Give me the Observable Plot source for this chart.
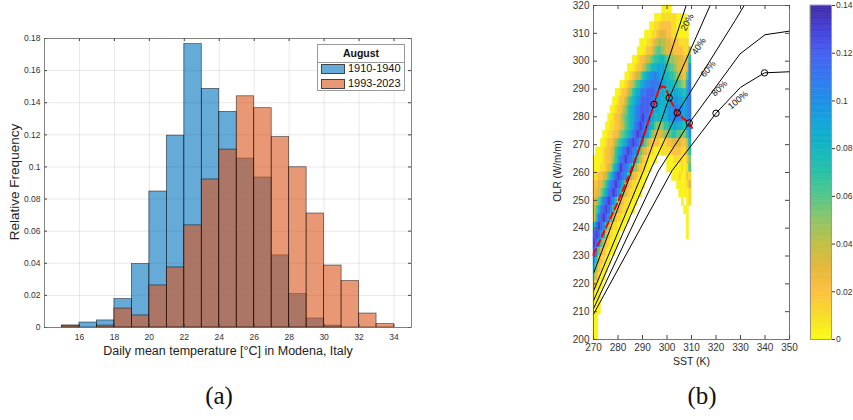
<!DOCTYPE html>
<html><head><meta charset="utf-8">
<script src="https://cdn.jsdelivr.net/npm/d3@7"></script>
<script src="https://cdn.jsdelivr.net/npm/@observablehq/plot@0.6"></script>
<style>
body{margin:0;background:#fff}
#root{position:relative;width:853px;height:420px;background:#fff;overflow:hidden;font-family:'Liberation Sans',Arial,sans-serif;color:#222}
.abs{position:absolute;white-space:nowrap}
.c{transform:translate(-50%,-50%)}
.cap{font-family:'Liberation Serif','DejaVu Serif',serif;font-size:25px;color:#111}
</style></head><body>
<div id="root">
  <div id="pa" class="abs" style="left:0;top:0;width:420px;height:365px"></div>
  <div id="pb" class="abs" style="left:540px;top:0;width:260px;height:370px"></div>
  <div id="cb" class="abs" style="left:800px;top:0;width:53px;height:370px"></div>
</div>
<script>
// ---------- Panel (a) data ----------
const binEdges = [15,16,17,18,19,20,21,22,23,24,25,26,27,28,29,30,31,32,33,34];
const freq1910 = [0.0012,0.0031,0.0044,0.0177,0.0395,0.0847,0.1195,0.1765,0.1486,0.1343,0.1052,0.0934,0.0449,0.0208,0.0056,0.0012,0,0,0];
const freq1993 = [0.0012,0,0.0012,0.0118,0.0075,0.0262,0.0374,0.0636,0.0922,0.1108,0.1440,0.1366,0.1186,0.0998,0.0710,0.0386,0.0289,0.0087,0.0021];
const seriesNames = ["1910-1940","1993-2023"];
const seriesColors = ["#0072BD","#D95319"];
const legendTitle = "August";
const xTicksA = [16,18,20,22,24,26,28,30,32,34];
const yTicksA = [0,0.02,0.04,0.06,0.08,0.1,0.12,0.14,0.16,0.18];
const xLabelA = "Daily mean temperature [°C] in Modena, Italy";
const yLabelA = "Relative Frequency";

// ---------- Panel (b) data ----------
const sstTicks = [270,280,290,300,310,320,330,340,350];
const olrTicks = [200,210,220,230,240,250,260,270,280,290,300,310,320];
const cbTicks = [0,0.02,0.04,0.06,0.08,0.1,0.12,0.14];
const xLabelB = "SST (K)";
const yLabelB = "OLR (W/m/m)";
// density level codes
const levelCodes = "0123456789abcd";
const levelValues = [0.003,0.01,0.02,0.03,0.04,0.05,0.06,0.07,0.08,0.09,0.10,0.11,0.12,0.13];
const olrBinHeight = 3, sstBinWidth = 1;
// [OLR bin bottom, first SST, level per 1 K column]
const densityRows = [
  [317,298,"0000"],
  [314,295,"0001111110000"],
  [311,293,"0011222221100000"],
  [308,291,"000112333221100000"],
  [305,289,"00011234544332221111"],
  [302,288,"0001223566543332222114"],
  [299,286,"001223456778876554433237"],
  [296,284,"0001223567889998766543323a"],
  [293,283,"0012345789aaba998877654326a"],
  [290,281,"0012346789aabbbba99888776548b"],
  [287,279,"0012245789abbcccba998888998879b"],
  [284,278,"0012246789abccccba9988899aa998ab"],
  [281,277,"0012245789abccccba998899aabbaa9ab"],
  [278,276,"00122356789abcdcba9888889aabbaa9ab"],
  [275,275,"001122346789bcdcba9865557788998879a"],
  [272,274,"001122356789bcdcba97543345567766557a"],
  [269,273,"00122356789bcdcba86432221112233332248"],
  [266,271,"00012234789bcdcba8643211000111122221137"],
  [263,270,"00001223579bcdcba864211000"],[263,300,"0001111025"],
  [260,270,"0001123479bdcba865321100"],[260,300,"0000001016"],
  [257,270,"11223468acdcba75321100"],[257,302,"00010021"],
  [254,270,"2233579bcdca853211000"],[254,304,"000013"],
  [251,270,"233579bcdca853211000"],[251,305,"00001"],
  [248,270,"3468bcdca743211000"],[248,306,"0.01"],
  [245,270,"468bcdca743211000"],[245,307,"00"],
  [242,270,"37bcdca74211000"],[242,308,"0"],
  [239,270,"8bdca74211000"],[239,308,"0"],
  [236,270,"cdca8421000"],[236,308,"0"],
  [233,270,"dca7421000"],
  [230,270,"ca6321000"],
  [227,270,"a732100"],
  [224,270,"852100"],
  [221,270,"53100"],
  [218,270,"3100"],
  [215,270,"100"],
  [212,270,"000"],
  [209,270,"000"],
  [206,270,"00"],
  [203,270,"00"],
  [200,270,"00"]
];
// black curves (relative humidity), [SST, OLR]
const rh20  = [[270,223.7],[285.7,260.6],[294.7,284.5],[307.8,320]];
const rh40  = [[270,217.4],[290.4,260.6],[300.9,286.8],[317.6,320]];
const rh60  = [[270,213.9],[293.1,260.6],[304.2,281.4],[327.8,314.6],[331.5,320]];
const rh80  = [[270,211.1],[296.5,260.6],[309.1,277.8],[329.8,302.6],[340,309.5],[350,310.8]];
const rh100 = [[270,209.1],[302,260.6],[320,281.3],[330,290.6],[339.8,295.8],[350,296.2]];
const rhNames = ["20%","40%","60%","80%","100%"];
const rhLabelPos = [[308.3,314.0],[313.0,305.4],[316.8,297.2],[321.4,290.2],[329.0,286.0]];
const rhLabelAngle = [-62,-56,-50,-45,-40];
const circlePts = [[294.7,284.5],[300.9,286.8],[304.2,281.4],[309.1,277.8],[320,281.3],[339.8,295.8]];
const redDashed = [[270,230.5],[275,240],[280,249.5],[285,260],[290,271.5],[294.7,284.5],[296.5,289.5],[298,291],[299.5,290.5],[300.9,286.8],[304.2,281.4],[306.5,279.5],[309.1,277.8],[310.2,276]];
const parulaRev = ["#f9fb15","#f8dc28","#fcc040","#e6b83a","#bfbf45","#8fc466","#55c68a","#28c1a6","#12b6c2","#11a6d6","#1e8fe6","#3377f0","#4560ee","#4440d8","#3e2ca2"];

const font = "'Liberation Sans', Arial, sans-serif";
const root = document.getElementById("root");
function addText(txt, x, y, opts = {}) {
  const d = document.createElement("div");
  d.className = "abs c" + (opts.cls ? " " + opts.cls : "");
  d.textContent = txt;
  d.style.left = x + "px"; d.style.top = y + "px";
  if (opts.size) d.style.fontSize = opts.size + "px";
  if (opts.rot) d.style.transform = "translate(-50%,-50%) rotate(" + opts.rot + "deg)";
  root.appendChild(d);
  return d;
}

// ---------- Panel (a) ----------
const aW = 420, aH = 365, aML = 44, aMR = 9, aMT = 38, aMB = 38;
const aIW = aW - aML - aMR, aIH = aH - aMT - aMB;
const barsOf = (vals) => vals.map((v, i) => ({x1: binEdges[i], x2: binEdges[i + 1], y1: 0, y2: v})).filter(d => d.y2 > 0);
const plotA = Plot.plot({
  width: aW, height: aH,
  marginLeft: aML, marginRight: aMR, marginTop: aMT, marginBottom: aMB,
  x: {domain: [14, 35], ticks: xTicksA, tickSize: 0, tickPadding: 6, label: null, tickFormat: d => String(d)},
  y: {domain: [0, 0.18], ticks: yTicksA, tickSize: 0, tickPadding: 4, label: null, tickFormat: d => String(d)},
  style: {fontFamily: font, fontSize: "8.5px", color: "#333", background: "transparent", overflow: "visible"},
  marks: [
    Plot.ruleX(xTicksA, {stroke: "#000", strokeOpacity: 0.09}),
    Plot.ruleY(yTicksA, {stroke: "#000", strokeOpacity: 0.09}),
    Plot.rect(barsOf(freq1910), {x1: "x1", x2: "x2", y1: "y1", y2: "y2", inset: 0, fill: seriesColors[0], fillOpacity: 0.6, stroke: "#000", strokeOpacity: 0.65, strokeWidth: 0.7}),
    Plot.rect(barsOf(freq1993), {x1: "x1", x2: "x2", y1: "y1", y2: "y2", inset: 0, fill: seriesColors[1], fillOpacity: 0.6, stroke: "#000", strokeOpacity: 0.65, strokeWidth: 0.7}),
    Plot.ruleX(xTicksA, {stroke: "#444", insetTop: aIH - 3}),
    Plot.ruleX(xTicksA, {stroke: "#444", insetBottom: aIH - 3}),
    Plot.ruleY(yTicksA, {stroke: "#444", insetRight: aIW - 3}),
    Plot.ruleY(yTicksA, {stroke: "#444", insetLeft: aIW - 3}),
    Plot.frame({stroke: "#666", strokeWidth: 0.8})
  ]
});
document.getElementById("pa").appendChild(plotA);

addText(yLabelA, 14, 182, {size: 13.5, rot: -90});
addText(xLabelA, 228, 351, {size: 12.5});
addText("(a)", 219, 396, {cls: "cap"});

// legend
const leg = document.createElement("div");
leg.className = "abs";
Object.assign(leg.style, {left: "317px", top: "44px", width: "88px", height: "47px", border: "1px solid #999", background: "#fff", boxSizing: "border-box", fontFamily: font});
leg.innerHTML = `<div style="position:absolute;left:0;right:0;top:2px;text-align:center;font-weight:bold;font-size:10.5px;color:#111">${legendTitle}</div>
<div style="position:absolute;left:0;right:0;top:16.5px;border-top:1px solid #999"></div>`;
const swatchFill = ["rgb(102,170,215)", "rgb(232,152,117)"];
seriesNames.forEach((name, i) => {
  const top = 19 + i * 15;
  const sw = document.createElement("div");
  Object.assign(sw.style, {position: "absolute", left: "3px", top: top + "px", width: "24px", height: "10px", background: swatchFill[i], border: "1px solid #444", boxSizing: "border-box"});
  const tx = document.createElement("div");
  Object.assign(tx.style, {position: "absolute", left: "30px", top: (top - 2) + "px", fontSize: "11px", color: "#111", whiteSpace: "nowrap"});
  tx.textContent = name;
  leg.appendChild(sw); leg.appendChild(tx);
});
root.appendChild(leg);

// ---------- Panel (b) ----------
const cells = [];
for (const [olr, sst0, s] of densityRows) {
  [...s].forEach((ch, j) => {
    const k = levelCodes.indexOf(ch);
    if (k < 0) return;
    cells.push({x1: sst0 + j * sstBinWidth, x2: sst0 + (j + 1) * sstBinWidth, y1: olr, y2: olr + olrBinHeight, v: levelValues[k]});
  });
}
const rhData = [rh20, rh40, rh60, rh80, rh100].flatMap((pts, i) => pts.map(([x, y]) => ({sst: x, olr: y, rh: rhNames[i]})));
const rhLabels = rhNames.map((n, i) => ({sst: rhLabelPos[i][0], olr: rhLabelPos[i][1], text: n, a: rhLabelAngle[i]}));
const colorScale = {type: "linear", domain: parulaRev.map((_, i) => i * 0.01), range: parulaRev, interpolate: "rgb"};

const bW = 260, bH = 370, bML = 53, bMR = 11, bMT = 5, bMB = 31;
const bIW = bW - bML - bMR, bIH = bH - bMT - bMB;
const plotB = Plot.plot({
  width: bW, height: bH,
  marginLeft: bML, marginRight: bMR, marginTop: bMT, marginBottom: bMB,
  x: {domain: [270, 350], ticks: sstTicks, tickSize: 0, tickPadding: 4, label: null, tickFormat: d => String(d)},
  y: {domain: [200, 320], ticks: olrTicks, tickSize: 0, tickPadding: 4, label: null, tickFormat: d => String(d)},
  color: colorScale,
  style: {fontFamily: font, fontSize: "10px", color: "#333", background: "transparent", overflow: "visible"},
  marks: [
    Plot.rect(cells, {x1: "x1", x2: "x2", y1: "y1", y2: "y2", inset: 0, fill: "v", stroke: "v", strokeWidth: 0.5}),
    Plot.line(rhData, {x: "sst", y: "olr", z: "rh", stroke: "#000", strokeWidth: 1}),
    Plot.line(redDashed.map(([x, y]) => ({sst: x, olr: y})), {x: "sst", y: "olr", stroke: "#ff0000", strokeWidth: 2, strokeDasharray: "6,4"}),
    Plot.dot(circlePts.map(([x, y]) => ({sst: x, olr: y})), {x: "sst", y: "olr", r: 3.2, stroke: "#000", strokeWidth: 1, fill: "none"}),
    Plot.text(rhLabels, {x: "sst", y: "olr", text: "text", rotate: "a", fontSize: 9, fill: "#111"}),
    Plot.ruleX(sstTicks, {stroke: "#444", insetTop: bIH - 4}),
    Plot.ruleX(sstTicks, {stroke: "#444", insetBottom: bIH - 4}),
    Plot.ruleY(olrTicks, {stroke: "#444", insetRight: bIW - 4}),
    Plot.ruleY(olrTicks, {stroke: "#444", insetLeft: bIW - 4}),
    Plot.frame({stroke: "#555", strokeWidth: 0.8})
  ]
});
document.getElementById("pb").appendChild(plotB);

// colorbar
const cbSteps = d3.range(0, 140).map(i => ({y1: i * 0.001, y2: (i + 1) * 0.001, v: (i + 0.5) * 0.001}));
const plotC = Plot.plot({
  width: 53, height: bH,
  marginLeft: 10, marginRight: 22, marginTop: bMT, marginBottom: bMB,
  x: {domain: [0, 1], axis: null},
  y: {domain: [0, 0.14], ticks: cbTicks, tickSize: 3, tickPadding: 1.5, label: null, axis: "right", tickFormat: d => String(d)},
  color: colorScale,
  style: {fontFamily: font, fontSize: "8.5px", color: "#333", background: "transparent", overflow: "visible"},
  marks: [
    Plot.rect(cbSteps, {x1: 0, x2: 1, y1: "y1", y2: "y2", inset: 0, fill: "v", stroke: "v", strokeWidth: 0.5}),
    Plot.frame({stroke: "#888", strokeWidth: 0.8})
  ]
});
document.getElementById("cb").appendChild(plotC);

addText(yLabelB, 557, 171, {size: 10, rot: -90});
addText(xLabelB, 691.5, 360.5, {size: 10.5});
addText("(b)", 702, 396, {cls: "cap"});
</script>
</body></html>
